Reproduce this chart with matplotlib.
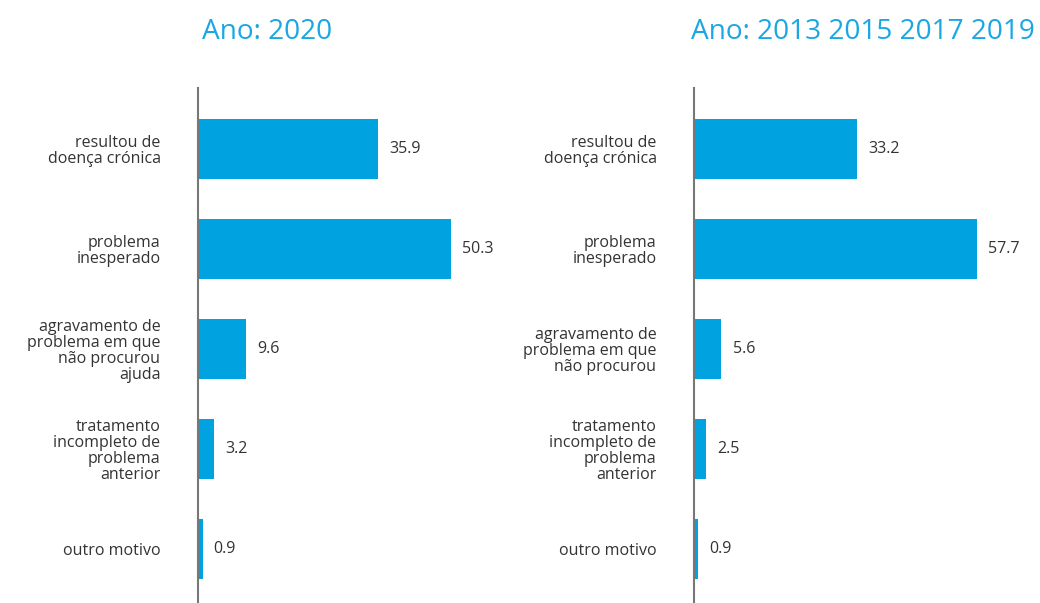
import matplotlib.pyplot as plt

plt.rcParams['font.family'] = ['Open Sans', 'DejaVu Sans']

categories_2020 = ["resultou de\ndoença crónica", "problema\ninesperado",
                   "agravamento de\nproblema em que\nnão procurou\najuda",
                   "tratamento\nincompleto de\nproblema\nanterior", "outro motivo"]
categories_prev = ["resultou de\ndoença crónica", "problema\ninesperado",
                   "agravamento de\nproblema em que\nnão procurou",
                   "tratamento\nincompleto de\nproblema\nanterior", "outro motivo"]
values_2020 = [35.9, 50.3, 9.6, 3.2, 0.9]
values_prev = [33.2, 57.7, 5.6, 2.5, 0.9]
title_2020 = "Ano: 2020"
title_prev = "Ano: 2013 2015 2017 2019"

BAR = "#00a3e0"
TXT = "#333333"
TITLE = "#1aa7e3"

W, H = 1040, 603
fig = plt.figure(figsize=(W / 100, H / 100), dpi=100)


def panel(x0, xmax, cats, vals, title, tx):
    ax = fig.add_axes([x0 / W, 0, 300 / W, 1 - 88 / H])
    y = range(len(vals))
    ax.barh(y, vals, height=0.6, color=BAR)
    ax.set_xlim(0, xmax)
    ax.set_ylim(4.54, -0.61)
    for sp in ["top", "right", "bottom"]:
        ax.spines[sp].set_visible(False)
    ax.spines["left"].set_color("#777777")
    ax.spines["left"].set_linewidth(1.5)
    ax.set_xticks([])
    ax.set_yticks(list(y))
    ax.set_yticklabels(cats, fontsize=11.5, color=TXT, linespacing=0.98)
    ax.tick_params(axis="y", length=0, pad=27)
    for i, v in enumerate(vals):
        ax.annotate(f"{v}", (v, i), xytext=(8, 0), textcoords="offset points",
                    va="center", ha="left", fontsize=11.5, color=TXT)
    fig.text(tx / W, 1 - 32 / H, title, ha="center", va="center",
             fontsize=20.2, color=TITLE)
    ax.patch.set_visible(False)


panel(198, 300 / 5.02, categories_2020, values_2020, title_2020, 267)
panel(694, 300 / 4.91, categories_prev, values_prev, title_prev, 863)

fig.savefig("out.png", dpi=100)
